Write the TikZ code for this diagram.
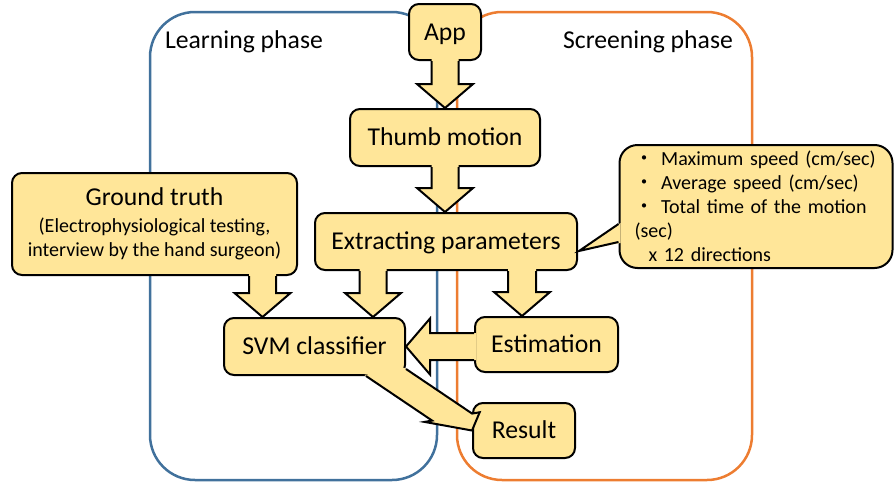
\documentclass[tikz,border=0pt]{standalone}
\usepackage{fontspec}
\setmainfont{Carlito}
\newfontfamily\cjk{Noto Sans CJK JP}
\usetikzlibrary{calc}
\definecolor{boxyellow}{RGB}{255,230,153}
\definecolor{learnblue}{RGB}{65,113,156}
\definecolor{screenorange}{RGB}{237,125,49}
\newcommand{\mainfs}{\fontsize{25.7}{30}\selectfont}
\newcommand{\smallfs}{\fontsize{20}{24}\selectfont}
\tikzset{
  phase/.style={line width=2.5pt, rounded corners=45pt},
  blk/.style={draw=black, line width=2pt, fill=boxyellow,
    rounded corners=10pt, inner sep=0pt},
  blkM/.style={blk, font=\mainfs, text height=20pt, text depth=4pt},
  lbl/.style={font=\mainfs},
}
% block arrow: two shaft corners on the source border, then the tip
\newcommand{\blockarrow}[3]{%
  \coordinate (ba-a) at (#1);
  \coordinate (ba-b) at (#2);
  \coordinate (ba-t) at (#3);
  \coordinate (ba-m) at ($(ba-a)!0.5!(ba-b)$);
  \coordinate (ba-h) at ($(ba-t)!24pt!(ba-m)$);
  \coordinate (ba-ha) at ($(ba-h)+(ba-a)-(ba-m)$);
  \coordinate (ba-hb) at ($(ba-h)+(ba-b)-(ba-m)$);
  \coordinate (ba-wa) at ($(ba-h)!28pt!(ba-ha)$);
  \coordinate (ba-wb) at ($(ba-h)!28pt!(ba-hb)$);
  \fill[boxyellow] ($(ba-a)!2pt!180:(ba-ha)$) -- (ba-ha) -- (ba-wa) -- (ba-t)
    -- (ba-wb) -- (ba-hb) -- ($(ba-b)!2pt!180:(ba-hb)$) -- cycle;
  \draw[line width=2pt] (ba-a) -- (ba-ha) -- (ba-wa) -- (ba-t)
    -- (ba-wb) -- (ba-hb) -- (ba-b);
}

\begin{document}
\begin{tikzpicture}[x=1pt, y=-1pt]
  \useasboundingbox (0,0) rectangle (894,482);

  % Phases
  \draw[phase, learnblue] (150,12) rectangle (437,480);
  \draw[phase, screenorange] (457,12) rectangle (752,480);
  \node[lbl] (learn) at (244,42) {Learning phase};
  \node[lbl] (screen) at (648,42) {Screening phase};

  % Boxes
  \node[blkM, minimum width=72pt, minimum height=56pt] (app) at (445,32) {App};
  \node[blkM, minimum width=190pt, minimum height=57pt] (thumb) at (445,137.5) {Thumb motion};
  \node[blkM, minimum width=262pt, minimum height=57pt] (extract) at (446,241.5) {Extracting parameters};
  \node[blk, minimum width=285pt, minimum height=102pt, align=center, font=\smallfs]
       (gt) at (154.5,224)
       {{\mainfs Ground truth}\\[3pt](Electrophysiological testing,\\interview by the hand surgeon)};
  \node[blkM, minimum width=181pt, minimum height=57pt] (svm) at (314.5,346.5) {SVM classifier};
  \node[blkM, minimum width=143pt, minimum height=55pt] (est) at (546.5,344.5) {Estimation};
  \node[blkM, minimum width=102pt, minimum height=55pt] (result) at (524,430.5) {Result};
  \node[blk, rounded corners=18pt, text width=243pt, inner xsep=15pt,
        minimum height=123pt, align=left, font=\smallfs] (params) at (756,206.5)
       {{\cjk ・}\ Maximum speed (cm/sec)\\
        {\cjk ・}\ Average speed (cm/sec)\\
        {\cjk ・}\ Total time of the motion\\
        (sec)\\
        \hspace*{14pt}x 12 directions};

  % Callout pointer
  \fill[boxyellow] ($(params.west)+(2,16.5)$) -- ($(extract.east)+(1,9.5)$)
       -- ($(params.west)+(2,36.5)$) -- cycle;
  \draw[line width=2pt] ($(params.west)+(0,17.5)$) -- ($(extract.east)+(1,9.5)$)
       -- ($(params.west)+(0,35.5)$);

  % Arrows
  \coordinate (t1) at ($(svm.north west)+(39.5,0)$);
  \coordinate (t2) at ($(svm.north east)+(-33,0)$);
  \coordinate (t3) at ($(est.north west)+(48,0)$);
  \blockarrow{$(app.south)+(-13.5,0)$}{$(app.south)+(13.5,0)$}{thumb.north}
  \blockarrow{$(thumb.south)+(-13.5,0)$}{$(thumb.south)+(13.5,0)$}{thumb.south |- extract.north}
  \blockarrow{$(t1 |- gt.south)+(-13.5,0)$}{$(t1 |- gt.south)+(13.5,0)$}{t1}
  \blockarrow{$(t2 |- extract.south)+(-13.5,0)$}{$(t2 |- extract.south)+(13.5,0)$}{t2}
  \blockarrow{$(t3 |- extract.south)+(-14,0)$}{$(t3 |- extract.south)+(14,0)$}{t3}
  \blockarrow{$(svm.east -| est.west)+(0,-13.5)$}{$(svm.east -| est.west)+(0,13.5)$}{svm.east}
  \blockarrow{$(svm.south east)+(0,-7)$}{$(svm.south east)+(-40,0)$}{result.west}
\end{tikzpicture}
\end{document}
